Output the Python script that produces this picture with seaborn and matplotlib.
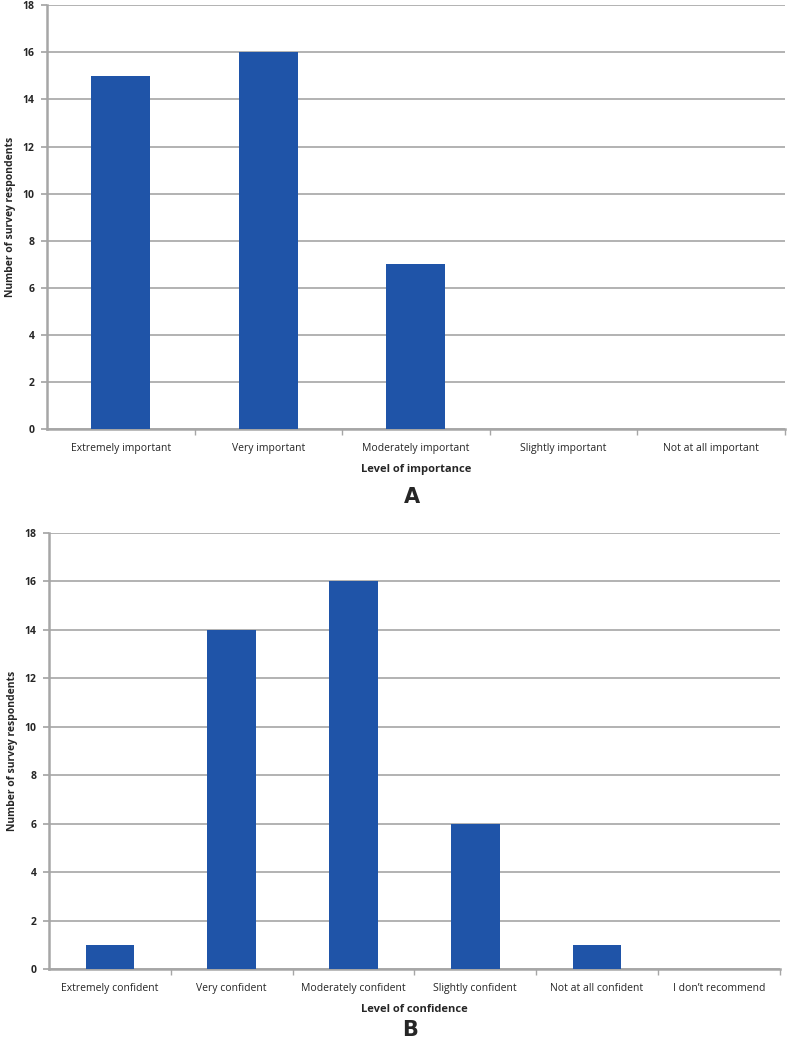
import matplotlib
matplotlib.use("Agg")
import matplotlib.pyplot as plt
import seaborn as sns
import pandas as pd

# panel A: importance
importance_levels = ["Extremely important", "Very important", "Moderately important",
                     "Slightly important", "Not at all important"]
importance_counts = [15, 16, 7, 0, 0]

# panel B: confidence
confidence_levels = ["Extremely confident", "Very confident", "Moderately confident",
                     "Slightly confident", "Not at all confident", "I don\u2019t recommend"]
confidence_counts = [1, 14, 16, 6, 1, 0]

y_ticks = [0, 2, 4, 6, 8, 10, 12, 14, 16, 18]

sns.set_theme(style="white")
plt.rcParams['font.family'] = ['Open Sans', 'DejaVu Sans']

BAR = "#1f54a8"
GRID = "#a6a6a6"

fig = plt.figure(figsize=(7.9, 10.44), dpi=100)
ax_a = fig.add_axes([0.0595, 0.589, 0.934, 0.406])
ax_b = fig.add_axes([0.062, 0.0718, 0.925, 0.4177])


def draw(ax, cats, vals, xlabel, tag, tag_y):
    df = pd.DataFrame({"cat": cats, "n": vals})
    sns.barplot(data=df, x="cat", y="n", color=BAR, width=0.4, saturation=1,
                linewidth=0, ax=ax, zorder=3)
    ax.set_ylim(0, 18)
    ax.set_xlim(-0.5, len(cats) - 0.5)
    ax.set_yticks(y_ticks)
    ax.set_yticklabels([str(t) for t in y_ticks], fontsize=7.5, fontweight="bold")
    ax.set_xticks(range(len(cats)))
    ax.set_xticklabels(cats, fontsize=7.5)
    ax.tick_params(axis="x", length=0, pad=10)
    ax.tick_params(axis="y", length=4, color=GRID, left=True, pad=5)
    ax.set_xticks([i + 0.5 for i in range(len(cats))], minor=True)
    ax.tick_params(axis="x", which="minor", bottom=True, length=4, color=GRID)
    ax.yaxis.grid(True, color=GRID, linewidth=1.2, zorder=0)
    ax.set_axisbelow(True)
    for s in ["top", "right"]:
        ax.spines[s].set_visible(False)
    for s in ["left", "bottom"]:
        ax.spines[s].set_color(GRID)
        ax.spines[s].set_linewidth(1.8)
    ax.set_xlabel(xlabel, fontsize=8, fontweight="bold", labelpad=7)
    ax.set_ylabel("Number of survey respondents", fontsize=7.5, fontweight="bold", labelpad=5)
    fig.text(ax.get_position().x0 + ax.get_position().width / 2 - 0.005, tag_y, tag,
             fontsize=15, fontweight="bold", ha="center", va="center", family="DejaVu Sans")


draw(ax_a, importance_levels, importance_counts, "Level of importance", "A", 1 - 497 / 1044)
draw(ax_b, confidence_levels, confidence_counts, "Level of confidence", "B", 1 - 1030 / 1044)

fig.savefig("out.png", dpi=100)
